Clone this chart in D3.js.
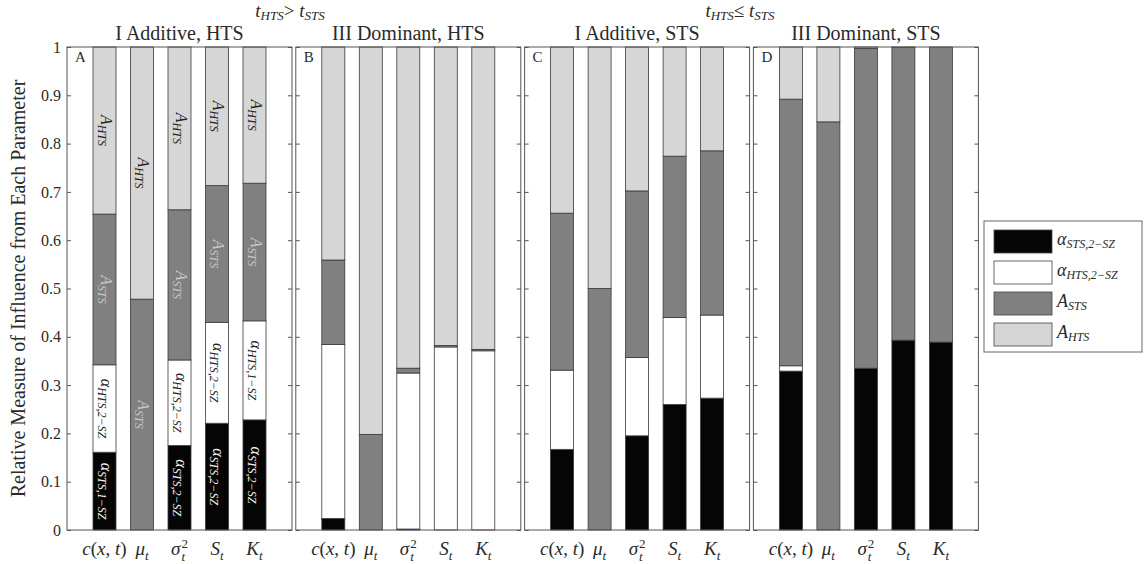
<!DOCTYPE html>
<html>
<head>
<meta charset="utf-8">
<script src="https://cdn.jsdelivr.net/npm/d3@7"></script>
<style>
  html, body { margin: 0; padding: 0; background: #fff; }
  svg { display: block; }
  text { font-family: "Liberation Serif", "DejaVu Serif", serif; fill: #2a2a2a; }
</style>
</head>
<body>
<svg id="chart" width="1144" height="564"></svg>
<script>
// Parameters on the x axis of every panel
const params = ["c", "mu", "sigma", "S", "K"];

// Panel titles and letters
const panelTitles = ["I Additive, HTS", "III Dominant, HTS", "I Additive, STS", "III Dominant, STS"];
const panelLetters = ["A", "B", "C", "D"];

// Share of influence per parameter, one row per panel (A, B, C, D)
const alphaSTS = [
  [0.161, 0.000, 0.175, 0.221, 0.228],
  [0.024, 0.000, 0.002, 0.000, 0.000],
  [0.167, 0.000, 0.195, 0.260, 0.273],
  [0.329, 0.000, 0.335, 0.393, 0.389]
];
const alphaHTS = [
  [0.181, 0.000, 0.177, 0.209, 0.205],
  [0.360, 0.000, 0.323, 0.379, 0.371],
  [0.164, 0.000, 0.162, 0.180, 0.172],
  [0.011, 0.000, 0.000, 0.000, 0.000]
];
const A_STS = [
  [0.312, 0.478, 0.311, 0.283, 0.285],
  [0.175, 0.198, 0.010, 0.003, 0.003],
  [0.325, 0.500, 0.345, 0.334, 0.340],
  [0.552, 0.845, 0.662, 0.606, 0.611]
];
const A_HTS = [
  [0.346, 0.522, 0.337, 0.287, 0.282],
  [0.441, 0.802, 0.665, 0.618, 0.626],
  [0.344, 0.500, 0.298, 0.226, 0.215],
  [0.108, 0.155, 0.003, 0.001, 0.000]
];

// Y axis ticks
const yTicks = [0, 0.1, 0.2, 0.3, 0.4, 0.5, 0.6, 0.7, 0.8, 0.9, 1];

// In-bar annotations of panel A: [parameter index, series key, subscript]
const panelALabels = [
  [0, "aSTS", "STS,1−SZ"], [0, "aHTS", "HTS,2−SZ"], [0, "ASTS", "STS"], [0, "AHTS", "HTS"],
  [1, "ASTS", "STS"], [1, "AHTS", "HTS"],
  [2, "aSTS", "STS,2−SZ"], [2, "aHTS", "HTS,2−SZ"], [2, "ASTS", "STS"], [2, "AHTS", "HTS"],
  [3, "aSTS", "STS,2−SZ"], [3, "aHTS", "HTS,2−SZ"], [3, "ASTS", "STS"], [3, "AHTS", "HTS"],
  [4, "aSTS", "STS,2−SZ"], [4, "aHTS", "HTS,1−SZ"], [4, "ASTS", "STS"], [4, "AHTS", "HTS"]
];

const seriesKeys = ["aSTS", "aHTS", "ASTS", "AHTS"];
const seriesData = { aSTS: alphaSTS, aHTS: alphaHTS, ASTS: A_STS, AHTS: A_HTS };
const colors = { aSTS: "#050505", aHTS: "#ffffff", ASTS: "#808080", AHTS: "#d6d6d6" };
const labelColors = { aSTS: "#f4f4f4", aHTS: "#222", ASTS: "#c8c8c8", AHTS: "#222" };

const svg = d3.select("#chart");

// Layout
const plotTop = 47, plotBottom = 530;
const panelW = 225, panelStep = 228.8, firstLeft = 67;
const barW = 23;

const y = d3.scaleLinear().domain([0, 1]).range([plotBottom, plotTop]);

// Writes a symbol with optional superscript/subscript into a text element
function mathText(sel, base, sub, sup, size) {
  sel.append("tspan").text(base).attr("font-style", "italic");
  const small = Math.round(size * 0.7);
  if (sup && sub) {
    sel.append("tspan").text(sup).attr("font-size", small).attr("dy", -size * 0.38).attr("dx", 1);
    sel.append("tspan").text(sub).attr("font-size", small).attr("font-style", "italic")
      .attr("dx", -small * 0.5).attr("dy", size * 0.7);
  } else if (sub) {
    sel.append("tspan").text(sub).attr("font-size", small).attr("font-style", "italic")
      .attr("dy", size * 0.28);
  }
}

function paramLabel(sel, p, size) {
  if (p === "c") {
    sel.append("tspan").text("c").attr("font-style", "italic");
    sel.append("tspan").text("(");
    sel.append("tspan").text("x").attr("font-style", "italic");
    sel.append("tspan").text(", ");
    sel.append("tspan").text("t").attr("font-style", "italic");
    sel.append("tspan").text(")");
  } else if (p === "mu") mathText(sel, "μ", "t", null, size);
  else if (p === "sigma") mathText(sel, "σ", "t", "2", size);
  else if (p === "S") mathText(sel, "S", "t", null, size);
  else if (p === "K") mathText(sel, "K", "t", null, size);
}

const stack = d3.stack().keys(seriesKeys);

panelTitles.forEach((title, pi) => {
  const left = firstLeft + pi * panelStep;
  const x = d3.scalePoint().domain(params).range([left + panelW / 6, left + panelW * 5 / 6]);
  const g = svg.append("g");

  // Stacked bars
  const rows = params.map((p, i) => {
    const r = { param: p };
    seriesKeys.forEach(k => { r[k] = seriesData[k][pi][i]; });
    return r;
  });
  const stacked = stack(rows);
  stacked.forEach(layer => {
    g.append("g").selectAll("rect")
      .data(layer.filter(d => d[1] - d[0] > 0))
      .join("rect")
      .attr("x", d => x(d.data.param) - barW / 2)
      .attr("width", barW)
      .attr("y", d => y(d[1]))
      .attr("height", d => y(d[0]) - y(d[1]))
      .attr("fill", colors[layer.key])
      .attr("stroke", "#3a3a3a")
      .attr("stroke-width", 0.8);
  });

  // Frame and inward ticks
  g.append("rect")
    .attr("x", left).attr("y", plotTop)
    .attr("width", panelW).attr("height", plotBottom - plotTop)
    .attr("fill", "none").attr("stroke", "#555").attr("stroke-width", 1);

  const axL = d3.axisLeft(y).tickValues(yTicks).tickSizeInner(-4).tickSizeOuter(0).tickPadding(6)
    .tickFormat(pi === 0 ? d3.format("~g") : () => "");
  const axR = d3.axisRight(y).tickValues(yTicks).tickSizeInner(-4).tickSizeOuter(0).tickFormat(() => "");
  const gl = g.append("g").attr("transform", `translate(${left},0)`).call(axL);
  const gr = g.append("g").attr("transform", `translate(${left + panelW},0)`).call(axR);
  [gl, gr].forEach(a => {
    a.select(".domain").remove();
    a.selectAll("line").attr("stroke", "#555");
    a.selectAll("text").attr("font-size", 16).attr("font-family", "Liberation Serif, serif").attr("fill", "#2a2a2a");
  });

  // Panel letter
  g.append("text").attr("x", left + 8).attr("y", plotTop + 15)
    .attr("font-size", 15).text(panelLetters[pi]);

  // Panel title
  g.append("text").attr("x", left + panelW / 2).attr("y", 40)
    .attr("text-anchor", "middle").attr("font-size", 20).text(title);

  // X labels
  params.forEach(p => {
    const t = g.append("text").attr("x", x(p)).attr("y", 555)
      .attr("text-anchor", "middle").attr("font-size", 19);
    paramLabel(t, p, 19);
  });

  // In-bar annotations for panel A
  if (pi === 0) {
    const layerByKey = {};
    stacked.forEach(l => { layerByKey[l.key] = l; });
    panelALabels.forEach(([bi, key, sub]) => {
      const d = layerByKey[key][bi];
      const cy = y((d[0] + d[1]) / 2);
      const base = key.startsWith("a") ? "α" : "A";
      const t = g.append("g")
        .attr("transform", `translate(${x(params[bi]) + 1},${cy}) rotate(90)`)
        .append("text")
        .attr("text-anchor", "middle").attr("dy", "0.3em")
        .attr("font-size", 16)
        .style("fill", labelColors[key]);
      t.append("tspan").text(base).attr("font-style", "italic");
      t.append("tspan").text(sub).attr("font-size", 12).attr("font-style", "italic").attr("dy", 3);
    });
  }
});

// Timing conditions above pairs of panels
[[290, "HTS", ">", "STS"], [740, "HTS", "≤", "STS"]].forEach(([cx, s1, op, s2]) => {
  const t = svg.append("text").attr("x", cx).attr("y", 17).attr("text-anchor", "middle").attr("font-size", 19);
  t.append("tspan").text("t").attr("font-style", "italic");
  t.append("tspan").text(s1).attr("font-size", 13).attr("font-style", "italic").attr("dy", 3);
  t.append("tspan").text(op).attr("dy", -3);
  t.append("tspan").text(" t").attr("font-style", "italic");
  t.append("tspan").text(s2).attr("font-size", 13).attr("font-style", "italic").attr("dy", 3);
});

// Y axis title
svg.append("text")
  .attr("transform", `translate(25,${(plotTop + plotBottom) / 2}) rotate(-90)`)
  .attr("text-anchor", "middle").attr("font-size", 20)
  .text("Relative Measure of Influence from Each Parameter");

// Legend
const legendItems = [
  ["aSTS", "α", "STS,2−SZ"],
  ["aHTS", "α", "HTS,2−SZ"],
  ["ASTS", "A", "STS"],
  ["AHTS", "A", "HTS"]
];
const lg = svg.append("g");
lg.append("rect").attr("x", 984).attr("y", 221).attr("width", 158).attr("height", 131)
  .attr("fill", "#fff").attr("stroke", "#666").attr("stroke-width", 1);
legendItems.forEach(([key, base, sub], i) => {
  const yy = 230 + i * 31;
  lg.append("rect").attr("x", 994).attr("y", yy).attr("width", 58).attr("height", 23)
    .attr("fill", colors[key]).attr("stroke", "#444").attr("stroke-width", 0.8);
  const t = lg.append("text").attr("x", 1057).attr("y", yy + 15).attr("font-size", 18);
  t.append("tspan").text(base).attr("font-style", "italic");
  t.append("tspan").text(sub).attr("font-size", 12).attr("font-style", "italic").attr("dy", 3);
});
</script>
</body>
</html>
